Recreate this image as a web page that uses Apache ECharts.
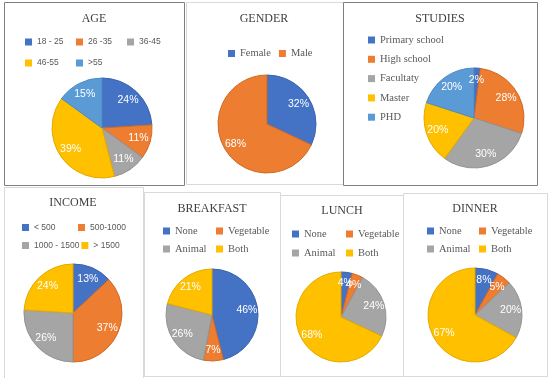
<!DOCTYPE html>
<html>
<head>
<meta charset="utf-8">
<script src="https://cdn.jsdelivr.net/npm/echarts@6/dist/echarts.min.js"></script>
<style>
html,body{margin:0;padding:0;background:#fff;}
#chart{width:550px;height:378px;}
</style>
</head>
<body>
<div id="chart"></div>
<script>
// ---- data ----
const ageCats = ['18 - 25', '26 -35', '36-45', '46-55', '>55'];
const ageVals = [24, 11, 11, 39, 15];
const genderCats = ['Female', 'Male'];
const genderVals = [32, 68];
const studiesCats = ['Primary school', 'High school', 'Facultaty', 'Master', 'PHD'];
const studiesVals = [2, 28, 30, 20, 20];
const incomeCats = ['< 500', '500-1000', '1000 - 1500', '> 1500'];
const incomeVals = [13, 37, 26, 24];
const mealCats = ['None', 'Vegetable', 'Animal', 'Both'];
const breakfastVals = [46, 7, 26, 21];
const lunchVals = [4, 4, 24, 68];
const dinnerVals = [8, 5, 20, 67];

const palette = ['#4472C4', '#ED7D31', '#A5A5A5', '#FFC000', '#5B9BD5'];
const edge = ['#3B63AD', '#D06A26', '#939393', '#E3AA00', '#4F8AC0'];

const SERIF = '"Liberation Serif", "DejaVu Serif", serif';
const SANS = '"Liberation Sans", Arial, sans-serif';

const panels = [
  {title: 'AGE', cats: ageCats, vals: ageVals, box: [4, 2, 180, 183], dark: true,
   tx: 94, ty: 12.5, center: [102, 128], r: 50,
   legend: {left: 25, top: 33.5, width: 170, font: SANS, size: 8.5, tw: 35, gap: 4, lh: 17}},
  {title: 'GENDER', cats: genderCats, vals: genderVals, box: [186, 2, 157, 182], dark: false,
   tx: 264, ty: 12.5, center: [267, 124], r: 49,
   legend: {left: 228, top: 45, width: 140, font: SERIF, size: 10.5, tw: null, gap: 8, lh: 17}},
  {title: 'STUDIES', cats: studiesCats, vals: studiesVals, box: [343, 2, 194, 183], dark: true,
   tx: 440, ty: 12.5, center: [474, 118], r: 50,
   legend: {left: 368, top: 33.5, vertical: true, font: SERIF, size: 10.5, tw: null, gap: 6.3, lh: 13}},
  {title: 'INCOME', cats: incomeCats, vals: incomeVals, box: [4, 187, 139, 200], dark: false,
   tx: 73, ty: 197, center: [73, 313], r: 49,
   legend: {left: 22, top: 219.5, width: 120, font: SANS, size: 8.5, tw: 42, gap: 2, lh: 16}},
  {title: 'BREAKFAST', cats: mealCats, vals: breakfastVals, box: [144, 192, 136, 184], dark: false,
   tx: 212, ty: 202.5, center: [212, 315], r: 46,
   legend: {left: 163, top: 223, width: 112, font: SERIF, size: 10.5, tw: 39, gap: 2, lh: 16}},
  {title: 'LUNCH', cats: mealCats, vals: lunchVals, box: [280, 195, 124, 181], dark: false,
   tx: 342, ty: 204.5, center: [341, 317], r: 45,
   legend: {left: 292, top: 226, width: 112, font: SERIF, size: 10.5, tw: 39, gap: 3, lh: 16}},
  {title: 'DINNER', cats: mealCats, vals: dinnerVals, box: [403, 193, 144, 183], dark: false,
   tx: 475, ty: 202.5, center: [475, 315], r: 47,
   legend: {left: 427, top: 223, width: 110, font: SERIF, size: 10.5, tw: 38, gap: 2, lh: 16}}
];

const titles = [], legends = [], seriesA = [], seriesB = [], graphics = [];

panels.forEach(function (p, i) {
  graphics.push({
    type: 'rect', silent: true, z: -10,
    shape: {x: p.box[0] + 0.5, y: p.box[1] + 0.5, width: p.box[2], height: p.box[3]},
    style: {fill: '#fff', stroke: p.dark ? '#7f7f7f' : '#d9d9d9', lineWidth: 1}
  });
  titles.push({
    text: p.title, left: p.tx, top: p.ty, textAlign: 'center', padding: 0,
    textStyle: {fontFamily: SERIF, fontSize: 12, fontWeight: 'normal', color: '#404040'}
  });
  const L = p.legend;
  const ts = {fontFamily: L.font, fontSize: L.size, color: '#595959', lineHeight: L.lh};
  if (L.tw) { ts.width = L.tw; ts.overflow = 'none'; }
  const lg = {
    data: p.cats, left: L.left, top: L.top, padding: 0,
    orient: L.vertical ? 'vertical' : 'horizontal',
    itemWidth: 7, itemHeight: 7, itemGap: L.gap, icon: 'rect',
    itemStyle: {borderWidth: 0},
    selectedMode: false, textStyle: ts
  };
  if (L.width) lg.width = L.width;
  legends.push(lg);

  const data = p.cats.map(function (c, k) {
    return {name: c, value: p.vals[k],
      itemStyle: {color: palette[k], borderColor: edge[k], borderWidth: 1}};
  });
  seriesA.push({
    type: 'pie', name: p.title, center: p.center, radius: [0, p.r],
    startAngle: 90, clockwise: true, data: data, label: {show: false},
    labelLine: {show: false}, emphasis: {disabled: true}, silent: true
  });
  seriesB.push({
    type: 'pie', name: p.title + '_labels', center: p.center, radius: [p.r * 0.4, p.r],
    startAngle: 90, clockwise: true, avoidLabelOverlap: false,
    data: p.cats.map(function (c, k) { return {name: c, value: p.vals[k]}; }),
    itemStyle: {color: 'rgba(0,0,0,0)', borderWidth: 0},
    label: {show: true, position: 'inside', formatter: '{c}%', color: '#fff',
      fontFamily: SANS, fontSize: 10.5},
    labelLayout: {hideOverlap: false},
    labelLine: {show: false}, emphasis: {disabled: true}, silent: true, z: 3
  });
});

const chart = echarts.init(document.getElementById('chart'), null, {renderer: 'canvas'});
chart.setOption({
  backgroundColor: '#fff',
  animation: false,
  tooltip: {show: false},
  title: titles,
  legend: legends,
  graphic: graphics,
  series: seriesA.concat(seriesB)
});
</script>
</body>
</html>
